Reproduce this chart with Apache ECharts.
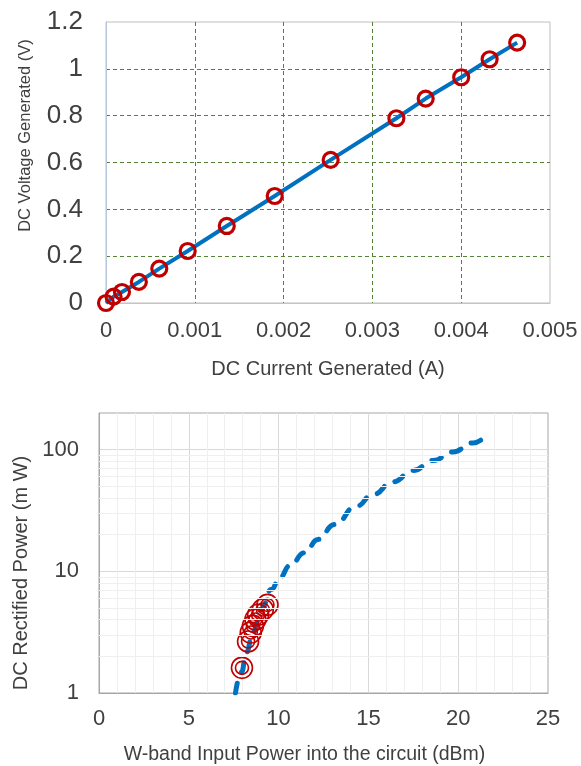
<!DOCTYPE html>
<html>
<head>
<meta charset="utf-8">
<script src="https://cdn.jsdelivr.net/npm/echarts@6/dist/echarts.min.js"></script>
<style>
  html, body { margin: 0; padding: 0; background: #fff; }
  #main { width: 581px; height: 766px; }
</style>
</head>
<body>
<div id="main"></div>
<script>
// top chart: DC current (A) vs DC voltage (V)
const currentA = [0, 0.000085, 0.00018, 0.00037, 0.0006, 0.00092, 0.00136, 0.0019, 0.00253, 0.00327, 0.0036, 0.004, 0.00432, 0.00463]
const voltageV = [0, 0.027, 0.047, 0.09, 0.147, 0.222, 0.329, 0.457, 0.611, 0.789, 0.873, 0.964, 1.041, 1.112]

// bottom chart: fitted curve (dBm -> mW)
const curveDbm = [7.6, 7.93, 8.21, 8.57, 9.04, 9.6, 10.06, 10.62, 11.45, 12.19, 13.12, 14.33, 15.26, 16.37, 17.48, 18.6, 19.71, 20.82, 21.25]
const curveMw = [1.0, 1.48, 2.16, 3.15, 4.89, 7.11, 8.87, 11.1, 14.2, 18.3, 24.3, 34.3, 42.8, 54.4, 67.3, 81.3, 95.8, 113.5, 119.5]

// bottom chart: measured points
const measDbm = [7.96, 8.3, 8.45, 8.57, 8.71, 8.86, 9.12, 9.38]
const measMw = [1.61, 2.65, 3.14, 3.56, 4.02, 4.4, 4.85, 5.3]

// minor log grid lines
const logMinor = [2, 3, 4, 5, 6, 7, 8, 9, 20, 30, 40, 50, 60, 70, 80, 90]

const font = 'Liberation Sans, Arial, sans-serif'
const textColor = '#404040'
const blue = '#0070C0'
const red = '#C00000'

const pairs = (xs, ys) => xs.map((x, i) => [x, ys[i]])

var chart = echarts.init(document.getElementById('main'))

var option = {
  animation: false,
  textStyle: { fontFamily: font },
  grid: [
    { left: 106, top: 22, right: 31, bottom: 463, show: true, borderColor: '#bfbfbf', borderWidth: 1 },
    { left: 99, top: 413, right: 33, bottom: 72, show: true, borderColor: '#a6a6a6', borderWidth: 1 }
  ],
  xAxis: [
    {
      gridIndex: 0,
      type: 'value',
      min: 0, max: 0.005, interval: 0.001,
      name: 'DC Current Generated (A)',
      nameLocation: 'middle',
      nameGap: 56,
      nameTextStyle: { fontSize: 20, color: textColor, fontFamily: font },
      axisLine: { show: true, lineStyle: { color: '#b8c6d9' } },
      axisTick: { show: false },
      axisLabel: { fontSize: 22, color: textColor, margin: 17, fontFamily: font },
      splitLine: {
        show: true, showMinLine: false, showMaxLine: false,
        lineStyle: { color: '#548235', type: [4, 3], width: 1 }
      }
    },
    {
      gridIndex: 1,
      type: 'value',
      min: 0, max: 25, interval: 5,
      name: 'W-band Input Power into the circuit (dBm)',
      nameLocation: 'middle',
      nameGap: 52,
      nameTextStyle: { fontSize: 19.5, color: textColor, fontFamily: font, padding: [0, 38, 0, 0] },
      axisLine: { show: true, lineStyle: { color: '#a6a6a6' } },
      axisTick: { show: false },
      axisLabel: { fontSize: 22, color: textColor, margin: 15, fontFamily: font },
      splitLine: { show: true, showMinLine: false, showMaxLine: false, lineStyle: { color: '#d9d9d9', width: 1 } },
      minorTick: { show: false, splitNumber: 5 },
      minorSplitLine: { show: true, lineStyle: { color: '#efefef', width: 1 } }
    }
  ],
  yAxis: [
    {
      gridIndex: 0,
      type: 'value',
      min: 0, max: 1.2, interval: 0.2,
      name: 'DC Voltage Generated (V)',
      nameLocation: 'middle',
      nameRotate: 90,
      nameGap: 72,
      nameTextStyle: { fontSize: 16.5, color: textColor, fontFamily: font, padding: [0, 0, 0, 54] },
      axisLine: { show: true, lineStyle: { color: '#b8c6d9' } },
      axisTick: { show: false },
      axisLabel: { fontSize: 26, color: textColor, margin: 23, fontFamily: font },
      splitLine: {
        show: true, showMinLine: false, showMaxLine: false,
        lineStyle: { color: '#548235', type: [4, 3], width: 1 }
      }
    },
    {
      gridIndex: 1,
      type: 'log',
      logBase: 10,
      min: 1, max: 200,
      name: 'DC Rectified Power (m W)',
      nameLocation: 'middle',
      nameRotate: 90,
      nameGap: 64,
      nameTextStyle: { fontSize: 20, color: textColor, fontFamily: font, padding: [0, 40, 0, 0] },
      axisLine: { show: true, lineStyle: { color: '#a6a6a6' } },
      axisTick: { show: false },
      axisLabel: { fontSize: 22, color: textColor, margin: 20, fontFamily: font, showMaxLabel: false },
      splitLine: { show: true, showMinLine: false, showMaxLine: false, lineStyle: { color: '#d9d9d9', width: 1 } }
    }
  ],
  series: [
    {
      name: 'fit',
      type: 'line',
      xAxisIndex: 0, yAxisIndex: 0,
      data: pairs(currentA, voltageV),
      showSymbol: false,
      lineStyle: { color: blue, width: 4 },
      z: 2
    },
    {
      name: 'meas',
      type: 'scatter',
      xAxisIndex: 0, yAxisIndex: 0,
      data: pairs(currentA, voltageV),
      symbol: 'circle',
      symbolSize: 15,
      itemStyle: { color: 'rgba(255,255,255,0)', borderColor: red, borderWidth: 3.2, opacity: 1 },
      z: 3
    },
    {
      name: 'minor',
      type: 'line',
      xAxisIndex: 1, yAxisIndex: 1,
      data: [],
      z: 1,
      markLine: {
        silent: true,
        symbol: 'none',
        label: { show: false },
        lineStyle: { color: '#efefef', type: 'solid', width: 1 },
        data: logMinor.map(v => ({ yAxis: v }))
      }
    },
    {
      name: 'curve',
      type: 'line',
      xAxisIndex: 1, yAxisIndex: 1,
      data: pairs(curveDbm, curveMw),
      smooth: 0.5,
      smoothMonotone: 'x',
      showSymbol: false,
      lineStyle: { color: blue, width: 5, type: [10, 12], cap: 'round' },
      z: 3
    },
    {
      name: 'outer',
      type: 'scatter',
      xAxisIndex: 1, yAxisIndex: 1,
      data: pairs(measDbm, measMw),
      symbolSize: 21,
      itemStyle: { color: 'rgba(255,255,255,0)', borderColor: red, borderWidth: 1.6, opacity: 1 },
      z: 4
    },
    {
      name: 'inner',
      type: 'scatter',
      xAxisIndex: 1, yAxisIndex: 1,
      data: pairs(measDbm, measMw),
      symbolSize: 13,
      itemStyle: { color: 'rgba(255,255,255,0)', borderColor: red, borderWidth: 1.6, opacity: 1 },
      z: 4
    }
  ]
}

option && chart.setOption(option)
</script>
</body>
</html>
